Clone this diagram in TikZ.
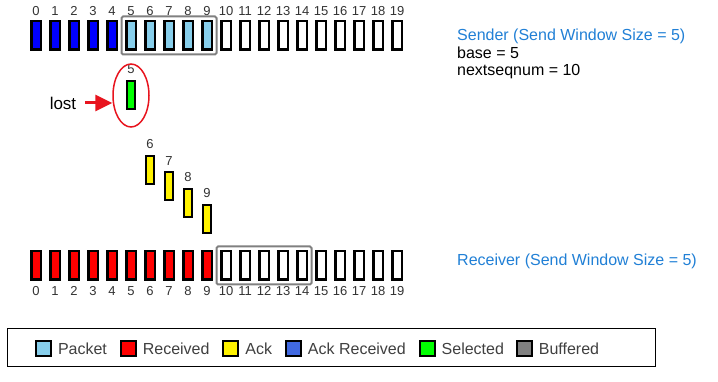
\documentclass[tikz,border=0pt]{standalone}
\usepackage{fontspec}
\setmainfont{Liberation Sans}
\usetikzlibrary{positioning,arrows.meta,fit,shapes.geometric}
\definecolor{pktblue}{HTML}{87CEEB}
\definecolor{ackblue}{HTML}{0000FF}
\definecolor{ackrcv}{HTML}{4169E1}
\definecolor{hdrblue}{RGB}{33,128,214}
\definecolor{numgray}{HTML}{333333}
\definecolor{legtext}{HTML}{404040}
\definecolor{lostred}{HTML}{E8141E}

\begin{document}
\begin{tikzpicture}[x=1pt, y=-1pt,
  seg/.style={draw, line width=2.5pt, inner sep=0pt,
              minimum width=9.5pt, minimum height=28.5pt},
  flying/.style={draw, line width=2pt, inner sep=0pt,
                 minimum width=8.5pt, minimum height=28pt},
  num/.style={inner sep=0pt, text=numgray, font=\fontsize{13}{15}\selectfont},
  txt/.style={inner sep=0pt, font=\fontsize{16}{19}\selectfont},
  window/.style={draw=gray, line width=2pt, rounded corners=1.5pt, inner sep=3.5pt},
  swatch/.style={draw, line width=2pt, minimum size=15pt, inner sep=0pt}]
  \path[fill=white, use as bounding box] (0,0) rectangle (718,382);

  % Sender row
  \foreach \i in {0,...,19} {
    \ifnum\i<5 \def\c{ackblue}\else\ifnum\i<10 \def\c{pktblue}\else\def\c{white}\fi\fi
    \node[seg, fill=\c] (s\i) at ({36+19*\i}, 35.5) {};
    \node[num, above=4pt of s\i] (sn\i) {\i};
  }
  \node[window, fit=(s5)(s9)] (swin) {};

  \node[txt, anchor=base west, text=hdrblue] (sender) at (457,41) {Sender (Send Window Size = 5)};
  \node[txt, anchor=base west] (base) at (457,58.5) {base = 5};
  \node[txt, anchor=base west] (nextseq) at (457,76) {nextseqnum = 10};

  % Lost packet
  \node[flying, fill=green] (g5) at (131,95) {};
  \node[num, above=6pt of g5] (gn5) {5};
  \node[draw=lostred, line width=1.5pt, ellipse, minimum width=36pt,
        minimum height=63pt] (lostring) at (131,95.5) {};
  \node[inner sep=0pt, font=\fontsize{17}{20}\selectfont] (lost) at (63,103) {lost};
  \draw[-{Triangle[length=17pt,width=16pt]}, lostred, line width=3pt, shorten <=9pt]
    (lost.east) -- (lost.east -| lostring.west);

  % Acks
  \foreach \i [count=\k from 0] in {6,...,9} {
    \node[flying, fill=yellow] (a\i) at ({36+19*\i}, {170+16.3*\k}) {};
    \node[num, above=6pt of a\i] (an\i) {\i};
  }

  % Receiver row
  \foreach \i in {0,...,19} {
    \ifnum\i<10 \def\c{red}\else\def\c{white}\fi
    \node[seg, fill=\c] (r\i) at ({36+19*\i}, 265.5) {};
    \node[num, below=5.5pt of r\i] (rn\i) {\i};
  }
  \node[window, fit=(r10)(r14)] (rwin) {};

  \node[txt, anchor=base west, text=hdrblue] (receiver) at (457,266) {Receiver (Send Window Size = 5)};

  % Legend
  \node[draw, line width=1.3pt, inner sep=0pt, minimum width=647.7pt,
        minimum height=37.7pt] (legend) at (331.5,347.5) {};
  \node[swatch, fill=pktblue] (kpkt) at (43.3,348.5) {};
  \node[txt, text=legtext, right=6pt of kpkt] (lpkt) {Packet};
  \node[swatch, fill=red, right=12.5pt of lpkt] (krcv) {};
  \node[txt, text=legtext, right=6pt of krcv] (lrcv) {Received};
  \node[swatch, fill=yellow, right=12.5pt of lrcv] (kack) {};
  \node[txt, text=legtext, right=6pt of kack] (lack) {Ack};
  \node[swatch, fill=ackrcv, right=12.5pt of lack] (kackr) {};
  \node[txt, text=legtext, right=6pt of kackr] (lackr) {Ack Received};
  \node[swatch, fill=green, right=12.5pt of lackr] (ksel) {};
  \node[txt, text=legtext, right=6pt of ksel] (lsel) {Selected};
  \node[swatch, fill=gray, right=11.5pt of lsel] (kbuf) {};
  \node[txt, text=legtext, right=6pt of kbuf] (lbuf) {Buffered};
\end{tikzpicture}
\end{document}
